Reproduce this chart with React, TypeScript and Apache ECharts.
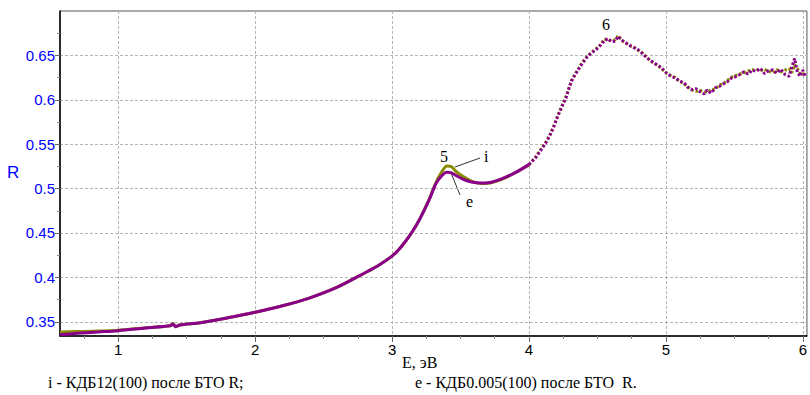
import React, { useEffect, useRef } from "react";
import * as echarts from "echarts";

// Smooth part of the spectra (E, eV)
const energySmooth = [
  0.575, 0.7, 0.85, 1.0, 1.2, 1.38, 1.4, 1.42, 1.45, 1.6, 1.8, 2.0, 2.2, 2.4, 2.6, 2.8, 2.9,
  3.0, 3.05, 3.1, 3.15, 3.2, 3.27, 3.32, 3.36, 3.4, 3.43, 3.47, 3.52, 3.58, 3.65, 3.7, 3.8, 3.9, 4.0,
];
// i - КДБ12(100) после БТО
const rISmooth = [
  0.3385, 0.339, 0.3395, 0.3405, 0.3433, 0.3455, 0.348, 0.3445, 0.3465, 0.349, 0.3545, 0.3607,
  0.368, 0.377, 0.389, 0.405, 0.4135, 0.424, 0.4315, 0.441, 0.452, 0.465, 0.4875, 0.5065, 0.518,
  0.5255, 0.525, 0.519, 0.5135, 0.5085, 0.5058, 0.506, 0.5105, 0.5178, 0.527,
];
// e - КДБ0.005(100) после БТО
const rESmooth = [
  0.3355, 0.337, 0.3385, 0.34, 0.343, 0.3455, 0.3475, 0.3445, 0.3465, 0.349, 0.3545, 0.3607,
  0.368, 0.377, 0.389, 0.405, 0.4135, 0.424, 0.4315, 0.441, 0.452, 0.465, 0.487, 0.5055, 0.514,
  0.5185, 0.518, 0.5145, 0.5105, 0.5075, 0.5063, 0.5065, 0.511, 0.518, 0.527,
];

// Noisy (dotted) part
const energyNoisy = [
  4.0, 4.05, 4.09, 4.12, 4.15, 4.18, 4.21, 4.24, 4.27, 4.29, 4.31, 4.34, 4.36, 4.39, 4.42, 4.45,
  4.49, 4.52, 4.55, 4.58, 4.6, 4.63, 4.65, 4.68, 4.71, 4.74, 4.77, 4.8, 4.83, 4.86, 4.89, 4.92,
  4.95, 4.98, 5.01, 5.04, 5.07, 5.1, 5.13, 5.16, 5.19, 5.22, 5.25, 5.28, 5.3, 5.33, 5.36, 5.39,
  5.42, 5.45, 5.48, 5.51, 5.54, 5.57, 5.6, 5.63, 5.66, 5.69, 5.72, 5.75, 5.78, 5.81, 5.84, 5.87,
  5.9, 5.92, 5.94, 5.96, 5.98, 6.0, 6.02,
];
const rINoisy = [
  0.527, 0.536, 0.545, 0.5515, 0.5595, 0.5705, 0.582, 0.593, 0.6035, 0.6125, 0.6215, 0.63, 0.6345,
  0.6425, 0.648, 0.6525, 0.6575, 0.6615, 0.6685, 0.6675, 0.6665, 0.6675, 0.672, 0.6665, 0.6635,
  0.6605, 0.659, 0.6555, 0.6525, 0.648, 0.6435, 0.6405, 0.6375, 0.6335, 0.6295, 0.627, 0.625,
  0.6205, 0.6185, 0.6145, 0.611, 0.6095, 0.6105, 0.609, 0.6085, 0.6115, 0.612, 0.6165, 0.6185,
  0.622, 0.6255, 0.6275, 0.629, 0.6305, 0.6325, 0.6335, 0.6345, 0.6325, 0.6345, 0.632, 0.6305,
  0.634, 0.6315, 0.6335, 0.635, 0.6305, 0.6395, 0.6355, 0.629, 0.6285, 0.632,
];
const rENoisy = [
  0.527, 0.535, 0.544, 0.551, 0.559, 0.569, 0.5815, 0.592, 0.602, 0.612, 0.621, 0.629, 0.634,
  0.641, 0.6474, 0.652, 0.6565, 0.661, 0.6665, 0.669, 0.6655, 0.666, 0.6715, 0.667, 0.664, 0.661,
  0.6585, 0.656, 0.652, 0.6475, 0.644, 0.641, 0.638, 0.634, 0.629, 0.6265, 0.6245, 0.621, 0.6195,
  0.614, 0.6115, 0.6125, 0.609, 0.6065, 0.611, 0.6075, 0.6135, 0.615, 0.618, 0.6205, 0.6245,
  0.626, 0.6285, 0.6315, 0.629, 0.6335, 0.632, 0.6355, 0.6295, 0.633, 0.6335, 0.63, 0.6345,
  0.6285, 0.6265, 0.637, 0.6465, 0.631, 0.6265, 0.6335, 0.6255,
];

// Tick values
const xMajorTicks = [1, 2, 3, 4, 5, 6];
const xMinorTicks = [0.75, 1.25, 1.5, 1.75, 2.25, 2.5, 2.75, 3.25, 3.5, 3.75, 4.25, 4.5, 4.75, 5.25, 5.5, 5.75];
const yMajorTicks = [0.35, 0.4, 0.45, 0.5, 0.55, 0.6, 0.65];
const yMinorTicks = [0.375, 0.425, 0.475, 0.525, 0.575, 0.625, 0.675];

const OLIVE = "#8a8a00";
const PURPLE = "#8b008b";
const SERIF = "Liberation Serif";
const SANS = "Liberation Sans";

const zip = (xs: number[], ys: number[]) => xs.map((x, i) => [x, ys[i]]);

export default function App() {
  const ref = useRef<HTMLDivElement>(null);
  useEffect(() => {
    if (!ref.current) return;
    const chart = echarts.init(ref.current, undefined, { renderer: "svg" });
    const xMin = 0.575;
    const xMax = 6.03;
    const yMin = 0.334;
    const yMax = 0.7;
    const gridLine = { show: true, lineStyle: { color: "#b4b4b4", type: [3, 2] as any, width: 1 } };
    const txt = (text: string, left: number, top: number) => ({
      type: "text",
      left,
      top,
      style: { text, fill: "#000", font: "16px \"Liberation Serif\", serif" },
    });
    chart.setOption({
      animation: false,
      backgroundColor: "#ffffff",
      grid: {
        left: 60,
        right: 3,
        top: 11,
        bottom: 59,
        show: true,
        borderColor: "#555555",
        borderWidth: 1,
        backgroundColor: "transparent",
      },
      xAxis: [
        {
          type: "value",
          min: xMin,
          max: xMax,
          axisLine: { show: true, lineStyle: { color: "#000", width: 1.5 } },
          axisTick: { show: true, length: 6, lineStyle: { color: "#666" }, customValues: xMajorTicks },
          axisLabel: {
            show: true,
            customValues: xMajorTicks,
            color: "#000",
            fontFamily: SANS,
            fontSize: 15,
            margin: 6,
          },
          splitLine: gridLine,
        },
        {
          type: "value",
          min: xMin,
          max: xMax,
          position: "bottom",
          axisLine: { show: false },
          axisTick: { show: true, length: 3, lineStyle: { color: "#888" }, customValues: xMinorTicks },
          axisLabel: { show: false },
          splitLine: { show: false },
        },
      ],
      yAxis: [
        {
          type: "value",
          min: yMin,
          max: yMax,
          axisLine: { show: true, lineStyle: { color: "#000", width: 1.5 } },
          axisTick: { show: true, length: 5, lineStyle: { color: "#666" }, customValues: yMajorTicks },
          axisLabel: {
            show: true,
            customValues: yMajorTicks,
            color: "#0000ff",
            fontFamily: SANS,
            fontSize: 15,
            margin: 5,
          },
          splitLine: gridLine,
        },
        {
          type: "value",
          min: yMin,
          max: yMax,
          position: "left",
          axisLine: { show: false },
          axisTick: { show: true, length: 3, lineStyle: { color: "#888" }, customValues: yMinorTicks },
          axisLabel: { show: false },
          splitLine: { show: false },
        },
      ],
      series: [
        {
          name: "i",
          type: "line",
          data: zip(energySmooth, rISmooth),
          showSymbol: false,
          smooth: 0.3,
          lineStyle: { color: OLIVE, width: 3 },
          z: 2,
        },
        {
          name: "i",
          type: "line",
          data: zip(energyNoisy, rINoisy),
          showSymbol: false,
          lineStyle: { color: OLIVE, width: 3, type: [2.5, 2] },
          z: 2,
        },
        {
          name: "e",
          type: "line",
          data: zip(energySmooth, rESmooth),
          showSymbol: false,
          smooth: 0.3,
          lineStyle: { color: PURPLE, width: 3 },
          z: 3,
        },
        {
          name: "e",
          type: "line",
          data: zip(energyNoisy, rENoisy),
          showSymbol: false,
          lineStyle: { color: PURPLE, width: 3, type: [2.5, 2] },
          z: 3,
        },
      ],
      graphic: [
        { type: "text", left: 7, top: 164, style: { text: "R", fill: "#0000ff", fontFamily: SANS, fontSize: 17 } },
        txt("E, эВ", 402, 354),
        txt("i - КДБ12(100) после БТО R;", 48, 374),
        txt("e - КДБ0.005(100) после БТО  R.", 415, 374),
        txt("5", 440, 148),
        txt("i", 484, 148),
        txt("e", 466, 193),
        txt("6", 602, 16),
        { type: "line", shape: { x1: 455, y1: 167, x2: 480, y2: 158 }, style: { stroke: "#333", lineWidth: 1 } },
        { type: "line", shape: { x1: 451, y1: 173, x2: 460, y2: 195 }, style: { stroke: "#333", lineWidth: 1 } },
      ],
    });
    return () => chart.dispose();
  }, []);
  return (
    <div
      ref={ref}
      style={{ position: "fixed", left: 0, top: 0, width: 810, height: 395, background: "#fff" }}
    />
  );
}
